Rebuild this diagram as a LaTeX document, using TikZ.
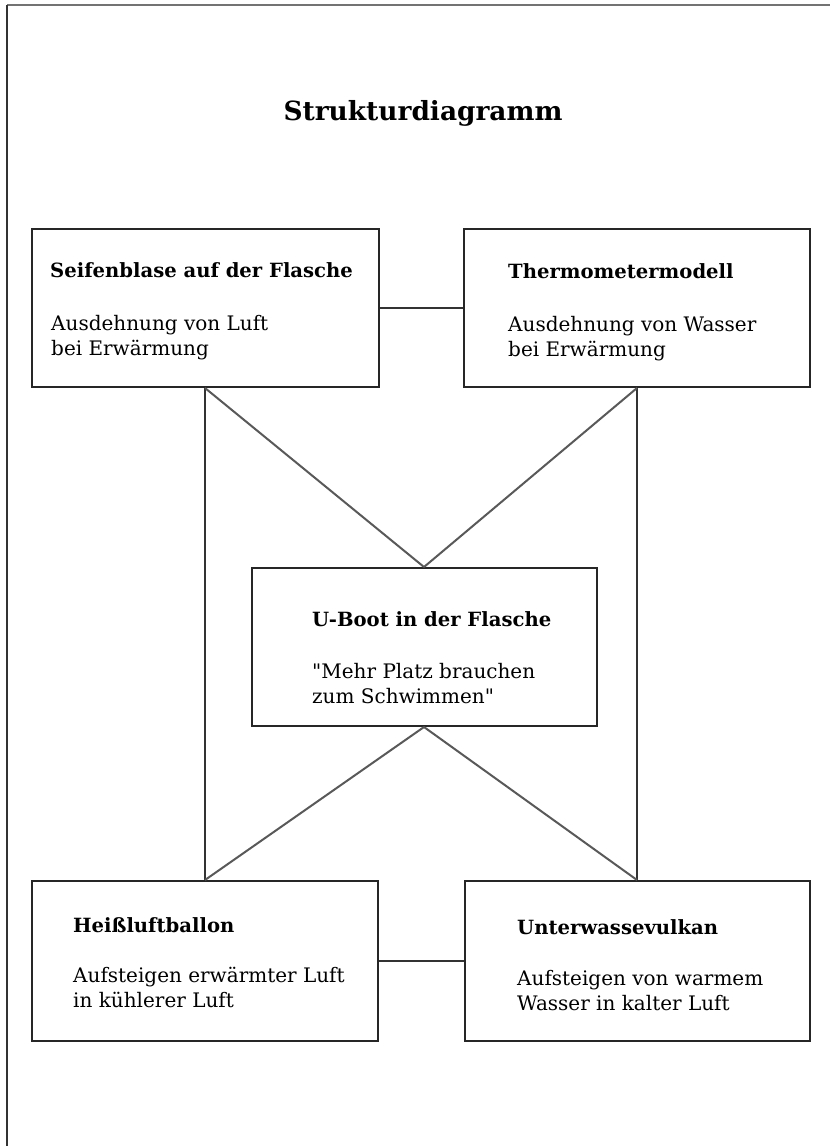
\documentclass[tikz,border=0pt]{standalone}
\usepackage{fontspec}
\setmainfont{DejaVu Serif}[Ligatures=TeXOff]
\begin{document}
\begin{tikzpicture}[x=1pt,y=-1pt,
  box/.style={draw=black!85,line width=2pt,rectangle,inner sep=0pt},
  link/.style={draw=black!80,line width=1.8pt},
  cross/.style={draw=black!65,line width=2pt},
  head/.style={anchor=base west,inner sep=0pt,font=\fontsize{19.6}{23}\selectfont\bfseries},
  body/.style={anchor=base west,inner sep=0pt,align=left,font=\fontsize{20}{25}\selectfont}]
\useasboundingbox (0,0) rectangle (830,1146);
% page edges
\draw[black!55,line width=2.5pt] (7,5) -- (830,5);
\draw[black!80,line width=2pt] (7,5) -- (7,1146);
% title
\node[anchor=base,inner sep=0pt,font=\fontsize{26.4}{32}\selectfont\bfseries] (title) at (423,120) {Strukturdiagramm};
% boxes
\node[box,minimum width=347pt,minimum height=158pt] (A) at (205,308) {};
\node[box,minimum width=346pt,minimum height=158pt] (B) at (637,308) {};
\node[box,minimum width=345pt,minimum height=158pt] (M) at (424,647) {};
\node[box,minimum width=346pt,minimum height=160pt] (C) at (205,961) {};
\node[box,minimum width=345pt,minimum height=160pt] (D) at (637,961) {};
% texts (body anchors sit on the last line's baseline)
\node[head] (ah) at (50,277) {Seifenblase auf der Flasche};
\node[body] (ab) at (51,355) {Ausdehnung von Luft\\bei Erwärmung};
\node[head] (bh) at (508,278) {Thermometermodell};
\node[body] (bb) at (508,356) {Ausdehnung von Wasser\\bei Erwärmung};
\node[head] (mh) at (312,626) {U-Boot in der Flasche};
\node[body] (mb) at (312,703) {"Mehr Platz brauchen\\zum Schwimmen"};
\node[head] (ch) at (73,932) {Heißluftballon};
\node[body] (cb) at (73,1007) {Aufsteigen erwärmter Luft\\in kühlerer Luft};
\node[head] (dh) at (517,934) {Unterwassevulkan};
\node[body] (db) at (517,1010) {Aufsteigen von warmem\\Wasser in kalter Luft};
% connectors
\draw[link] (A.east) -- (B.west);
\draw[link] (C.east) -- (D.west);
\draw[link] (A.south) -- (C.north);
\draw[link] (B.south) -- (D.north);
\draw[cross] (A.south) -- (M.north);
\draw[cross] (B.south) -- (M.north);
\draw[cross] (M.south) -- (C.north);
\draw[cross] (M.south) -- (D.north);
\end{tikzpicture}
\end{document}
